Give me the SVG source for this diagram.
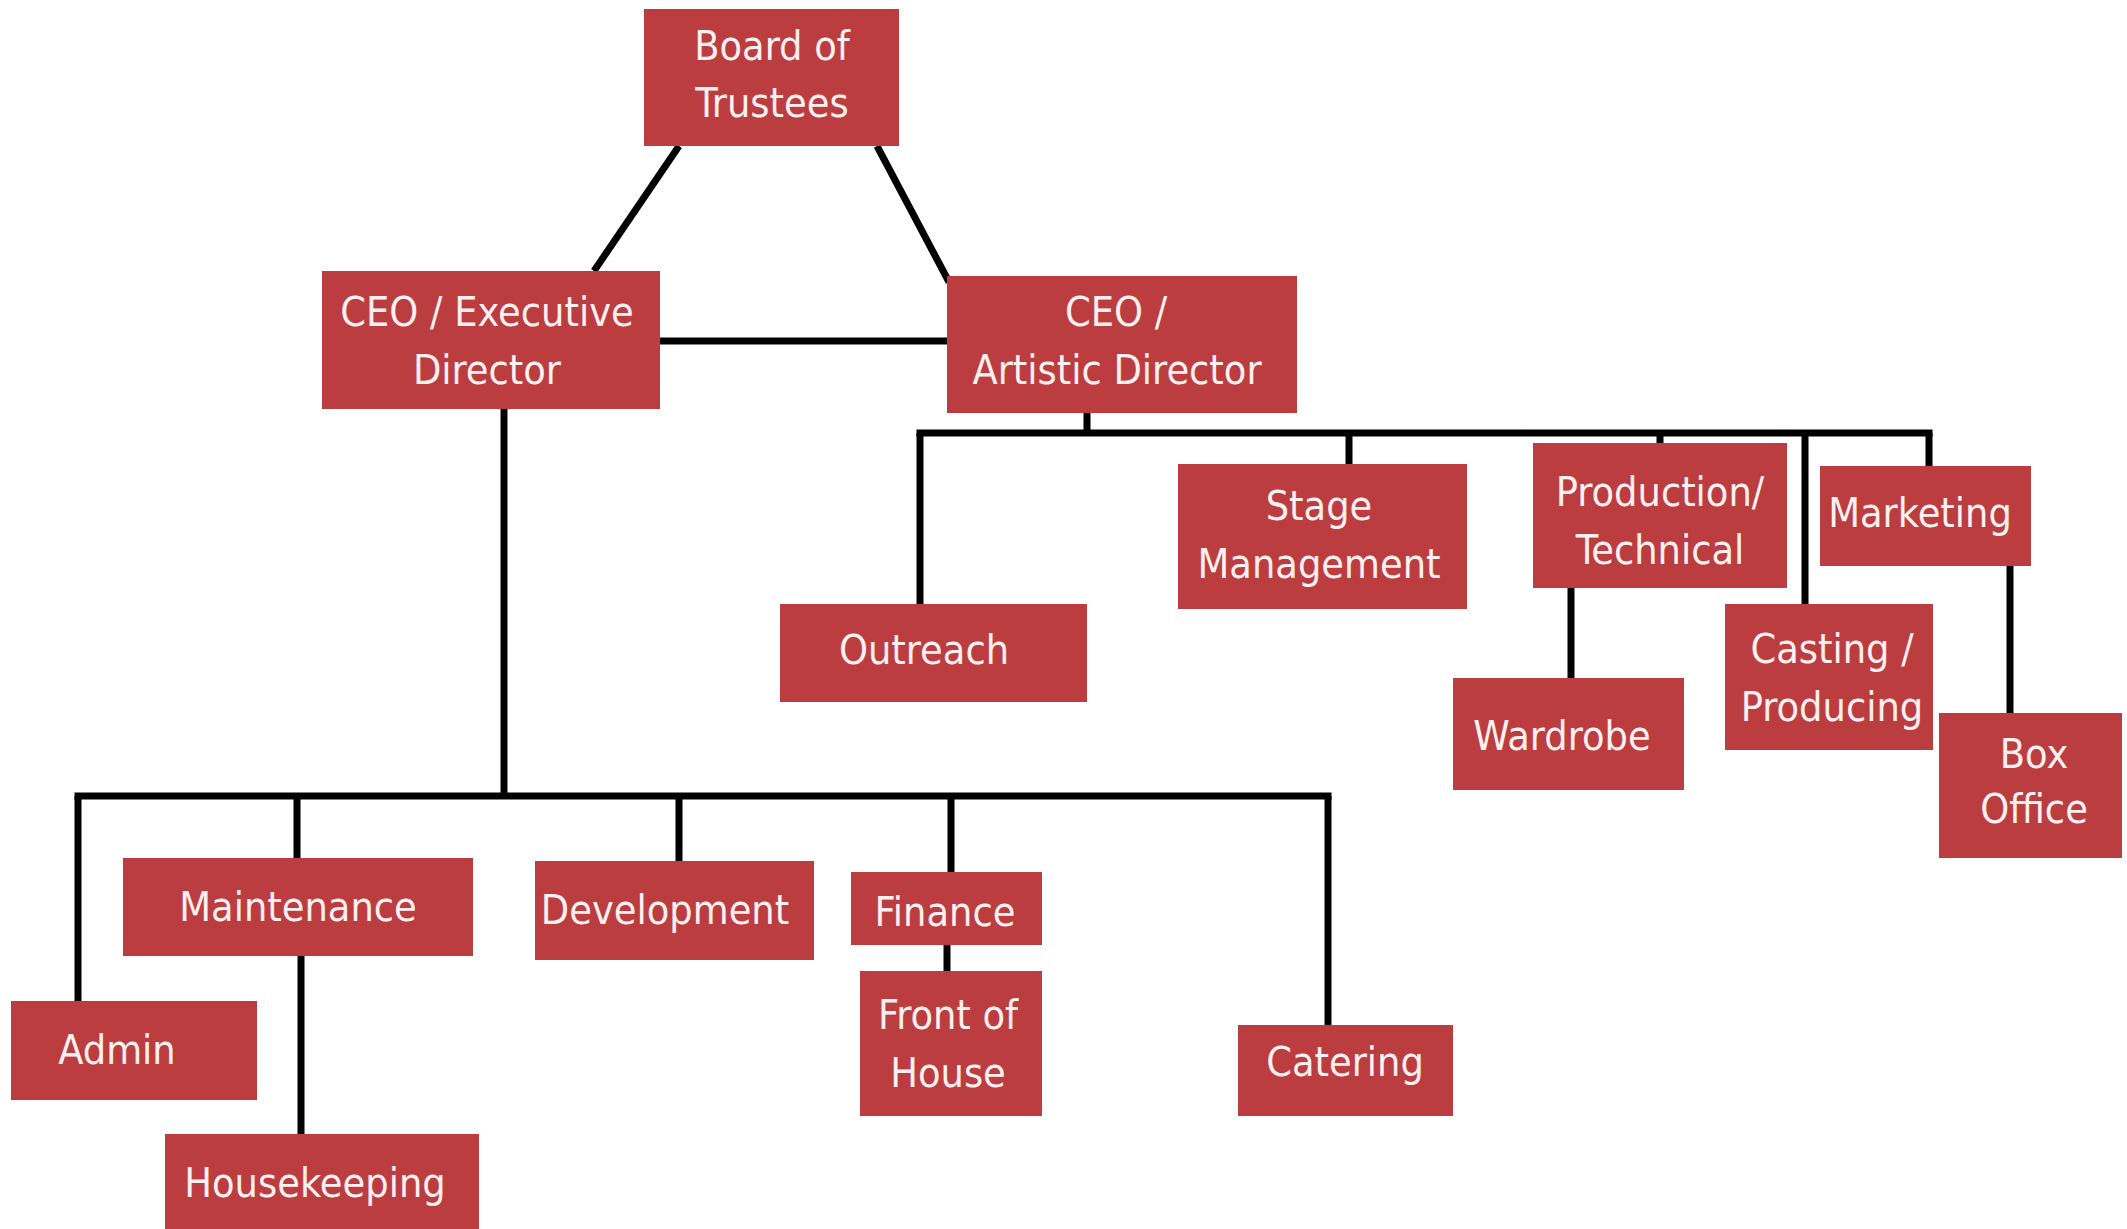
<svg xmlns="http://www.w3.org/2000/svg" width="2127" height="1229" viewBox="0 0 2127 1229">
<style>
.box{fill:#BC3D40}
.t{font-family:'DejaVu Sans Condensed','DejaVu Sans',sans-serif;font-stretch:condensed;font-size:41px;fill:#FDF0F0;text-anchor:middle}
.c{stroke:#000;stroke-width:7;fill:none}
</style>
<rect width="2127" height="1229" fill="#fff"/>
<g id="connectors">
<line class="c" x1="679" y1="146" x2="594" y2="271"/>
<line class="c" x1="877" y1="146" x2="949" y2="282"/>
<line class="c" x1="660" y1="341" x2="952" y2="341"/>
<line class="c" x1="504" y1="409" x2="504" y2="796"/>
<line class="c" x1="74.5" y1="796" x2="1331.5" y2="796"/>
<line class="c" x1="78" y1="796" x2="78" y2="1001"/>
<line class="c" x1="297" y1="796" x2="297" y2="858"/>
<line class="c" x1="301" y1="956" x2="301" y2="1134"/>
<line class="c" x1="679" y1="796" x2="679" y2="861"/>
<line class="c" x1="951" y1="796" x2="951" y2="872"/>
<line class="c" x1="947" y1="945" x2="947" y2="971"/>
<line class="c" x1="1328" y1="796" x2="1328" y2="1025"/>
<line class="c" x1="1087" y1="413" x2="1087" y2="433"/>
<line class="c" x1="916.5" y1="433" x2="1932.5" y2="433"/>
<line class="c" x1="920" y1="433" x2="920" y2="604"/>
<line class="c" x1="1349" y1="433" x2="1349" y2="464"/>
<line class="c" x1="1660" y1="433" x2="1660" y2="443"/>
<line class="c" x1="1805" y1="433" x2="1805" y2="604"/>
<line class="c" x1="1929" y1="433" x2="1929" y2="466"/>
<line class="c" x1="1571" y1="588" x2="1571" y2="678"/>
<line class="c" x1="2010" y1="566" x2="2010" y2="713"/>
</g>
<g id="board"><rect class="box" x="644" y="9" width="255" height="137"/><text class="t" x="772" y="60">Board of</text><text class="t" x="772" y="117">Trustees</text></g>
<g id="ceo-exec"><rect class="box" x="322" y="271" width="338" height="138"/><text class="t" x="487" y="326">CEO / Executive</text><text class="t" x="487" y="384">Director</text></g>
<g id="ceo-art"><rect class="box" x="947" y="276" width="350" height="137"/><text class="t" x="1116" y="326">CEO /</text><text class="t" x="1117" y="384">Artistic Director</text></g>
<g id="outreach"><rect class="box" x="780" y="604" width="307" height="98"/><text class="t" x="924" y="664">Outreach</text></g>
<g id="stage"><rect class="box" x="1178" y="464" width="289" height="145"/><text class="t" x="1319" y="520">Stage</text><text class="t" x="1319" y="578">Management</text></g>
<g id="production"><rect class="box" x="1533" y="443" width="254" height="145"/><text class="t" x="1660" y="506">Production/</text><text class="t" x="1660" y="564">Technical</text></g>
<g id="marketing"><rect class="box" x="1820" y="466" width="211" height="100"/><text class="t" x="1920" y="527">Marketing</text></g>
<g id="wardrobe"><rect class="box" x="1453" y="678" width="231" height="112"/><text class="t" x="1562" y="750">Wardrobe</text></g>
<g id="casting"><rect class="box" x="1725" y="604" width="208" height="146"/><text class="t" x="1832" y="663">Casting /</text><text class="t" x="1832" y="721">Producing</text></g>
<g id="boxoffice"><rect class="box" x="1939" y="713" width="183" height="145"/><text class="t" x="2034" y="768">Box</text><text class="t" x="2034" y="823">Office</text></g>
<g id="admin"><rect class="box" x="11" y="1001" width="246" height="99"/><text class="t" x="117" y="1064">Admin</text></g>
<g id="maintenance"><rect class="box" x="123" y="858" width="350" height="98"/><text class="t" x="298" y="921">Maintenance</text></g>
<g id="housekeeping"><rect class="box" x="165" y="1134" width="314" height="95"/><text class="t" x="315" y="1197">Housekeeping</text></g>
<g id="development"><rect class="box" x="535" y="861" width="279" height="99"/><text class="t" x="665" y="924">Development</text></g>
<g id="finance"><rect class="box" x="851" y="872" width="191" height="73"/><text class="t" x="945" y="926">Finance</text></g>
<g id="frontofhouse"><rect class="box" x="860" y="971" width="182" height="145"/><text class="t" x="948" y="1029">Front of</text><text class="t" x="948" y="1087">House</text></g>
<g id="catering"><rect class="box" x="1238" y="1025" width="215" height="91"/><text class="t" x="1345" y="1076">Catering</text></g>
</svg>
